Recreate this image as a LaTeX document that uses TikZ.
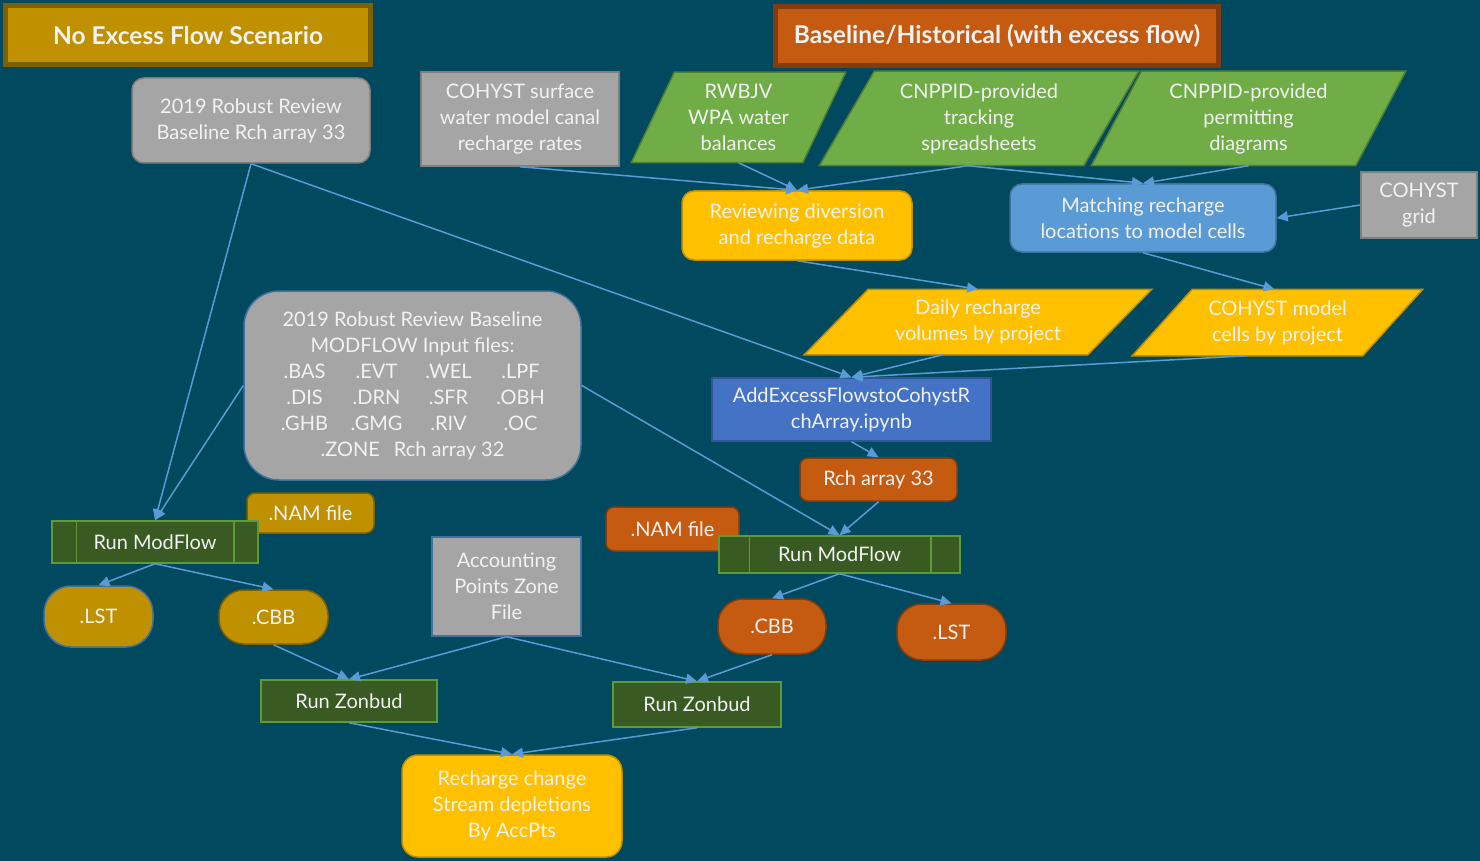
\documentclass[tikz,border=0pt]{standalone}
\usepackage{fontspec}
\setmainfont{Lato}
\usetikzlibrary{arrows.meta,calc}
\pgfdeclarelayer{bgl}
\pgfdeclarelayer{shp}
\pgfsetlayers{bgl,shp,main}
\definecolor{bgc}{HTML}{00495E}
\definecolor{txt}{HTML}{F2F2F2}
\definecolor{gold}{HTML}{BF9000}
\definecolor{golddk}{HTML}{7F6000}
\definecolor{orng}{HTML}{C55A11}
\definecolor{orngdk}{HTML}{843C0C}
\definecolor{grayf}{HTML}{A5A5A5}
\definecolor{grayd}{HTML}{7F7F7F}
\definecolor{grn}{HTML}{70AD47}
\definecolor{grndk}{HTML}{507E32}
\definecolor{yel}{HTML}{FFC000}
\definecolor{yeldk}{HTML}{BF9000}
\definecolor{lblue}{HTML}{5B9BD5}
\definecolor{lbluedk}{HTML}{41719C}
\definecolor{dblue}{HTML}{4472C4}
\definecolor{dbluedk}{HTML}{2F5597}
\definecolor{dgrn}{HTML}{3A5A23}
\definecolor{dgrnbd}{HTML}{5E9A35}
\definecolor{arrc}{HTML}{5B9BD5}
\tikzset{
  base/.style={text=txt, font=\fontsize{20}{26}\selectfont, align=center, inner sep=0pt, line width=1.5pt},
  hdr/.style={base, font=\bfseries\fontsize{24.5}{29}\selectfont, line width=5pt},
  graybox/.style={base, fill=grayf, draw=grayd},
  grayrnd/.style={graybox, rounded corners=12pt},
  goldbox/.style={base, fill=gold, draw=golddk, rounded corners=8pt},
  orngbox/.style={base, fill=orng, draw=orngdk, rounded corners=8pt},
  yelbox/.style={base, fill=yel, draw=yeldk, rounded corners=12pt},
  procbox/.style={base, fill=dgrn, draw=dgrnbd},
  paratext/.style={base, draw=none},
  grnpara/.style={fill=grn, draw=grndk, line width=1.5pt},
  yelpara/.style={fill=yel, draw=yeldk, line width=1.5pt},
  arr/.style={draw=arrc, line width=1.5pt, -{Triangle[length=11pt,width=10pt]}},
  inner/.style={draw=dgrnbd, line width=1.5pt}
}
\begin{document}
\begin{tikzpicture}[x=1pt,y=-1pt]
\begin{pgfonlayer}{bgl}
\fill[bgc] (0,0) rectangle (1480,861);
\end{pgfonlayer}
\useasboundingbox (0,0) rectangle (1480,861);

% headers
\node[hdr, fill=gold, draw=golddk, minimum width=365pt, minimum height=59pt] (h1) at (188,35) {\raisebox{-3pt}{No Excess Flow Scenario}};
\node[hdr, fill=orng, draw=orngdk, minimum width=443pt, minimum height=59pt] (h2) at (997,36) {\raisebox{-3pt}{Baseline/Historical (with excess flow)}};

% top row
\node[grayrnd, minimum width=238pt, minimum height=85pt] (rr33) at (251,120.5) {2019 Robust Review\\Baseline Rch array 33};
\node[graybox, minimum width=198pt, minimum height=94pt] (csw) at (520,119) {COHYST surface\\water model canal\\recharge rates};
\node[paratext, minimum width=213pt, minimum height=89pt] (rwb) at (738.5,117.5) {RWBJV\\WPA water\\balances};
\node[paratext, minimum width=318pt, minimum height=93pt] (trk) at (979,118.5) {CNPPID-provided\\tracking\\spreadsheets};
\node[paratext, minimum width=313pt, minimum height=93pt] (prm) at (1248.5,118.5) {CNPPID-provided\\permitting\\diagrams};
\begin{pgfonlayer}{shp}
\draw[grnpara] ($(rwb.north west)+(43,0)$) -- (rwb.north east) -- ($(rwb.south east)+(-43,0)$) -- (rwb.south west) -- cycle;
\draw[grnpara] ($(trk.north west)+(55,0)$) -- (trk.north east) -- ($(trk.south east)+(-55,0)$) -- (trk.south west) -- cycle;
\draw[grnpara] ($(prm.north west)+(50,0)$) -- (prm.north east) -- ($(prm.south east)+(-50,0)$) -- (prm.south west) -- cycle;
\end{pgfonlayer}

\node[yelbox, minimum width=230pt, minimum height=69pt] (rev) at (797,225.5) {Reviewing diversion\\and recharge data};
\node[base, fill=lblue, draw=lbluedk, rounded corners=12pt, minimum width=266pt, minimum height=68pt] (mat) at (1143,218) {Matching recharge\\locations to model cells};
\node[graybox, minimum width=116pt, minimum height=66pt] (grid) at (1419,205) {COHYST\\grid};

\node[paratext, minimum width=346pt, minimum height=64pt] (daily) at (978,322) {Daily recharge\\volumes by project};
\node[paratext, minimum width=289pt, minimum height=65pt] (cells) at (1277.5,322.5) {COHYST model\\cells by project};
\begin{pgfonlayer}{shp}
\draw[yelpara] ($(daily.north west)+(64,0)$) -- (daily.north east) -- ($(daily.south east)+(-64,0)$) -- (daily.south west) -- cycle;
\draw[yelpara] ($(cells.north west)+(60,0)$) -- (cells.north east) -- ($(cells.south east)+(-60,0)$) -- (cells.south west) -- cycle;
\end{pgfonlayer}

\node[base, fill=dblue, draw=dbluedk, minimum width=279pt, minimum height=63pt] (add) at (851.5,409.5) {AddExcessFlowstoCohystR\\chArray.ipynb};
\node[orngbox, minimum width=157pt, minimum height=43pt] (rch) at (878.5,479.5) {Rch array 33};

\node[graybox, rounded corners=35pt, draw=lbluedk, minimum width=337pt, minimum height=189pt] (big) at (412.5,385.5) {2019 Robust Review Baseline\\MODFLOW Input files:\\
\makebox[72pt]{.BAS}\makebox[72pt]{.EVT}\makebox[72pt]{.WEL}\makebox[72pt]{.LPF}\\
\makebox[72pt]{.DIS}\makebox[72pt]{.DRN}\makebox[72pt]{.SFR}\makebox[72pt]{.OBH}\\
\makebox[72pt]{.GHB}\makebox[72pt]{.GMG}\makebox[72pt]{.RIV}\makebox[72pt]{.OC}\\
.ZONE\hspace{14pt}Rch array 32};

% left branch
\node[goldbox, minimum width=127pt, minimum height=40pt] (namL) at (310.5,513) {.NAM file};
\node[procbox, minimum width=206pt, minimum height=42pt] (rmL) at (155,542) {Run ModFlow};
\draw[inner] ($(rmL.north west)+(25,0)$) -- ($(rmL.south west)+(25,0)$);
\draw[inner] ($(rmL.north east)+(-25,0)$) -- ($(rmL.south east)+(-25,0)$);
\node[base, fill=gold, draw=lbluedk, rounded corners=27pt, minimum width=109pt, minimum height=61pt] (lstL) at (98.5,616.5) {.LST};
\node[base, fill=gold, draw=golddk, rounded corners=25pt, minimum width=109pt, minimum height=54pt] (cbbL) at (273.5,617) {.CBB};

\node[graybox, draw=lbluedk, minimum width=149pt, minimum height=99pt] (acc) at (506.5,586.5) {Accounting\\Points Zone\\File};

% right branch
\node[orngbox, minimum width=133pt, minimum height=44pt] (namR) at (672.5,529) {.NAM file};
\node[procbox, minimum width=241pt, minimum height=37pt] (rmR) at (839.5,554.5) {Run ModFlow};
\draw[inner] ($(rmR.north west)+(31,0)$) -- ($(rmR.south west)+(31,0)$);
\draw[inner] ($(rmR.north east)+(-30,0)$) -- ($(rmR.south east)+(-30,0)$);
\node[base, fill=orng, draw=orngdk, rounded corners=25pt, minimum width=108pt, minimum height=55pt] (cbbR) at (772,626.5) {.CBB};
\node[base, fill=orng, draw=orngdk, rounded corners=25pt, minimum width=109pt, minimum height=56pt] (lstR) at (951.5,632) {.LST};

\node[procbox, minimum width=176pt, minimum height=42pt] (zbL) at (349,701) {Run Zonbud};
\node[procbox, minimum width=168pt, minimum height=45pt] (zbR) at (697,704.5) {Run Zonbud};
\node[yelbox, rounded corners=16pt, minimum width=220pt, minimum height=102pt] (rc) at (512,806) {Recharge change\\Stream depletions\\By AccPts};

% connectors
\draw[arr] (rr33.south) -- (rmL.north);
\draw[arr] (rr33.south) -- (add.north);
\draw[arr] (big.west) -- (rmL.north);
\draw[arr] (big.east) -- (rmR.north);
\draw[arr] (csw.south) -- (rev.north);
\draw[arr] (rwb.south) -- (rev.north);
\draw[arr] ($(trk.south)+(-11,0)$) -- (rev.north);
\draw[arr] ($(trk.south)+(-11,0)$) -- (mat.north);
\draw[arr] (prm.south) -- (mat.north);
\draw[arr] (grid.west) -- (mat.east);
\draw[arr] (rev.south) -- (daily.north);
\draw[arr] (mat.south) -- ($(cells.north)+(-3,0)$);
\draw[arr] ($(daily.south)+(-35,0)$) -- (add.north);
\draw[arr] ($(cells.south)+(-30,0)$) -- (add.north);
\draw[arr] (add.south) -- (rch.north);
\draw[arr] (rch.south) -- (rmR.north);
\draw[arr] (rmL.south) -- (lstL.north);
\draw[arr] (rmL.south) -- (cbbL.north);
\draw[arr] (rmR.south) -- (cbbR.north);
\draw[arr] (rmR.south) -- (lstR.north);
\draw[arr] (cbbL.south) -- (zbL.north);
\draw[arr] (acc.south) -- (zbL.north);
\draw[arr] (acc.south) -- (zbR.north);
\draw[arr] (cbbR.south) -- (zbR.north);
\draw[arr] (zbL.south) -- (rc.north);
\draw[arr] (zbR.south) -- (rc.north);
\end{tikzpicture}
\end{document}
